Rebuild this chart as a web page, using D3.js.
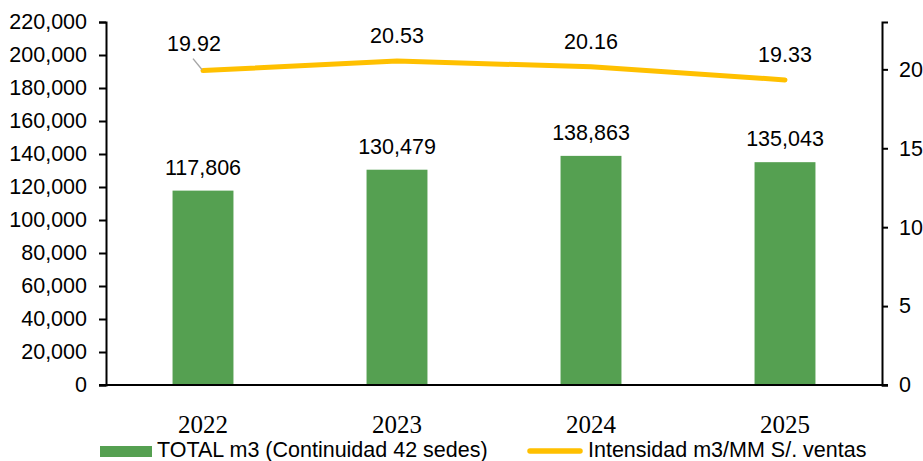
<!DOCTYPE html>
<html>
<head>
<meta charset="utf-8">
<script src="https://cdn.jsdelivr.net/npm/d3@7"></script>
<style>
	html, body { margin: 0; padding: 0; background: #fff; }
	#graph { display: block; font-family: Arial, "Liberation Sans", sans-serif; }
</style>
</head>
<body>
<svg id="graph" width="923" height="461"></svg>
<script>
;(() => {
	'use strict';

	// chart data
	const years = ['2022', '2023', '2024', '2025'],
		totalM3 = [117806, 130479, 138863, 135043],
		intensity = [19.92, 20.53, 20.16, 19.33],
		leftTicks = [0, 20000, 40000, 60000, 80000, 100000, 120000, 140000, 160000, 180000, 200000, 220000],
		rightTicks = [0, 5, 10, 15, 20],
		legendLabels = ['TOTAL m3 (Continuidad 42 sedes)', 'Intensidad m3/MM S/. ventas'];

	const barColor = '#55a051',
		lineColor = '#ffc000',
		fontSize = 21.5;

	const graph = d3.select('#graph'),
		left = 106,
		right = 882,
		top = 22,
		bottom = 385;

	const xScale = d3.scaleBand().domain(years).range([left, right]).paddingInner(0.686).paddingOuter(0.343),
		yLeft = d3.scaleLinear().domain([0, 220000]).range([bottom, top]),
		yRight = d3.scaleLinear().domain([0, 23]).range([bottom, top]),
		center = (d) => xScale(d) + xScale.bandwidth() / 2,
		fmt = d3.format(',');

	const rows = years.map((y, i) => ({ year: y, total: totalM3[i], intensity: intensity[i] }));

	/**
	* style an axis: black lines, text in Arial
	*/
	const styleAxis = function(g) {
		g.selectAll('.domain').attr('stroke', '#000').attr('stroke-width', 2);
		g.selectAll('.tick line').attr('stroke', '#000').attr('stroke-width', 2);
		g.selectAll('.tick text')
			.attr('fill', '#000')
			.style('font-size', fontSize + 'px')
			.style('font-family', 'Arial, "Liberation Sans", sans-serif');
	};

	// bars
	graph.append('g').selectAll('rect')
		.data(rows)
		.enter()
		.append('rect')
		.attr('x', (d) => xScale(d.year))
		.attr('width', xScale.bandwidth())
		.attr('y', (d) => yLeft(d.total))
		.attr('height', (d) => bottom - yLeft(d.total))
		.attr('fill', barColor);

	// left axis
	graph.append('g')
		.attr('transform', `translate(${left},0)`)
		.call(d3.axisLeft(yLeft).tickValues(leftTicks).tickFormat(fmt).tickSizeOuter(0).tickSize(7).tickPadding(12))
		.call(styleAxis);

	// right axis
	graph.append('g')
		.attr('transform', `translate(${right},0)`)
		.call(d3.axisRight(yRight).tickValues(rightTicks).tickSizeOuter(0).tickSize(6).tickPadding(11))
		.call(styleAxis);

	// bottom line (no category ticks)
	const xAxis = graph.append('g')
		.attr('transform', `translate(0,${bottom})`)
		.call(d3.axisBottom(xScale).tickSize(0).tickSizeOuter(0).tickPadding(30))
		.call(styleAxis);
	xAxis.select('.domain').attr('d', `M${left - 7},0H${right + 6}`);
	xAxis.selectAll('.tick text')
		.style('font-family', '"Liberation Serif", "DejaVu Serif", serif')
		.style('font-size', '25px');

	// bar labels
	graph.append('g').selectAll('text')
		.data(rows)
		.enter()
		.append('text')
		.attr('x', (d) => center(d.year))
		.attr('y', (d) => yLeft(d.total) - 16)
		.attr('text-anchor', 'middle')
		.style('font-size', fontSize + 'px')
		.text((d) => fmt(d.total));

	// intensity line
	const line = d3.line()
		.x((d) => center(d.year))
		.y((d) => yRight(d.intensity));

	graph.append('path')
		.datum(rows)
		.attr('d', line)
		.attr('fill', 'none')
		.attr('stroke', lineColor)
		.attr('stroke-width', 5)
		.attr('stroke-linecap', 'round')
		.attr('stroke-linejoin', 'round');

	// first label was dragged aside in the original, with a leader line
	const labelShift = [-9, 0, 0, 0],
		labelLift = [20, 18, 18, 18];

	graph.append('line')
		.attr('x1', center(years[0]) - 10)
		.attr('y1', yRight(intensity[0]) - 12)
		.attr('x2', center(years[0]) - 1)
		.attr('y2', yRight(intensity[0]) - 1)
		.attr('stroke', '#a6a6a6')
		.attr('stroke-width', 1.5);

	graph.append('g').selectAll('text')
		.data(rows)
		.enter()
		.append('text')
		.attr('x', (d, i) => center(d.year) + labelShift[i])
		.attr('y', (d, i) => yRight(d.intensity) - labelLift[i])
		.attr('text-anchor', 'middle')
		.style('font-size', fontSize + 'px')
		.text((d) => d.intensity.toFixed(2));

	// legend
	const legend = graph.append('g');
	legend.append('rect')
		.attr('x', 100).attr('y', 446)
		.attr('width', 52).attr('height', 11)
		.attr('fill', barColor);
	legend.append('text')
		.attr('x', 157).attr('y', 457)
		.style('font-size', fontSize + 'px')
		.text(legendLabels[0]);
	legend.append('line')
		.attr('x1', 530).attr('x2', 580)
		.attr('y1', 451).attr('y2', 451)
		.attr('stroke', lineColor)
		.attr('stroke-width', 5.5)
		.attr('stroke-linecap', 'round');
	legend.append('text')
		.attr('x', 588).attr('y', 457)
		.style('font-size', fontSize + 'px')
		.text(legendLabels[1]);
})();
</script>
</body>
</html>
